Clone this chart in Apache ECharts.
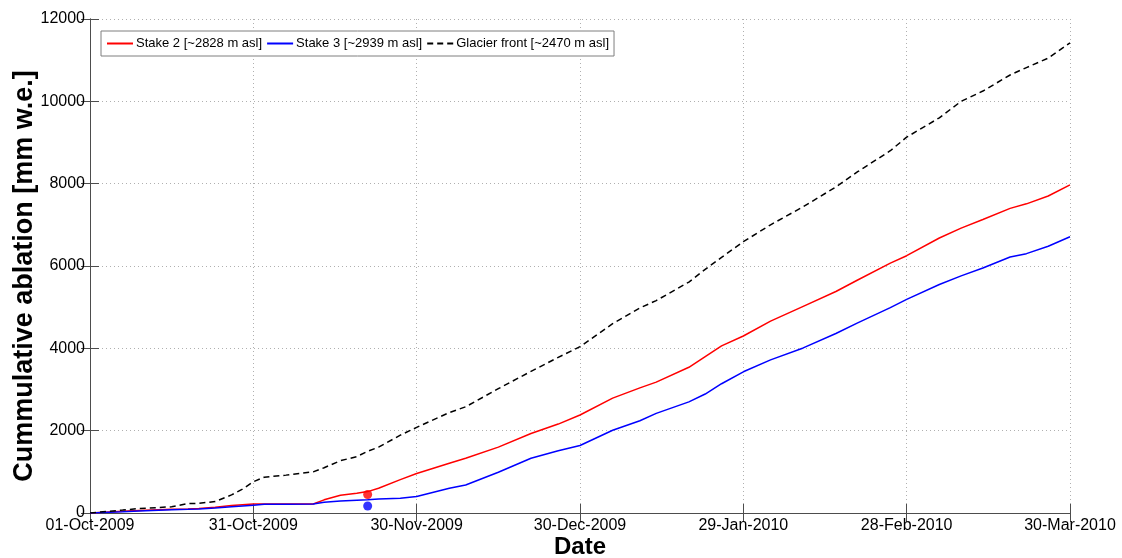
<!DOCTYPE html>
<html>
<head>
<meta charset="utf-8">
<script src="https://cdn.jsdelivr.net/npm/echarts@6/dist/echarts.min.js"></script>
<style>
html,body{margin:0;padding:0;background:#fff;}
#c{width:1122px;height:558px;}
</style>
</head>
<body>
<div id="c"></div>
<script>
// Days since 01-Oct-2009
var days = [0,6,9,15,18,20,23,26,28,30,32,36,41,43,46,49,51,53,57,60,66,69,75,81,86,90,96,101,104,110,113,116,120,125,131,137,141,147,150,156,160,164,169,172,176,180];
var stake2 = [0,40,60,90,100,110,140,180,200,220,220,220,220,320,430,480,520,600,810,960,1210,1330,1600,1930,2160,2380,2790,3040,3180,3540,3800,4060,4300,4660,5020,5380,5660,6070,6250,6680,6920,7130,7400,7510,7700,7970];
var stake3 = [0,30,50,80,90,100,120,150,170,190,210,215,220,260,290,310,320,340,360,400,600,680,990,1330,1510,1640,2010,2240,2420,2700,2890,3140,3430,3720,4010,4360,4620,4990,5190,5550,5760,5950,6220,6300,6480,6710];
var front  = [0,70,110,150,230,235,280,440,580,760,870,920,1000,1100,1270,1370,1500,1600,1890,2080,2440,2580,3020,3440,3780,4040,4600,4980,5160,5610,5920,6210,6590,7000,7440,7920,8290,8800,9130,9600,10000,10250,10640,10820,11050,11420];
var markerDay = 51;
var markerStake2 = 450;
var markerStake3 = 170;
var xTickLabels = ['01-Oct-2009','31-Oct-2009','30-Nov-2009','30-Dec-2009','29-Jan-2010','28-Feb-2010','30-Mar-2010'];
var seriesNames = ['Stake 2 [~2828 m asl]','Stake 3 [~2939 m asl]','Glacier front [~2470 m asl]'];

function pairs(v){ return days.map(function(d,i){ return [d, v[i]]; }); }

var FONT = "'Liberation Sans', Arial, sans-serif";
var chart = echarts.init(document.getElementById('c'));
var axisLineStyle = {color:'#4d4d4d', width:1};
chart.setOption({
  animation:false,
  backgroundColor:'#fff',
  grid:{left:90, right:52, top:19, bottom:45, containLabel:false, outerBoundsMode:'none'},
  legend:{
    data:seriesNames,
    left:101, top:31,
    orient:'horizontal',
    backgroundColor:'#fff',
    borderColor:'#7f7f7f', borderWidth:1,
    padding:[6,5],
    itemWidth:26, itemHeight:10, itemGap:4,
    itemStyle:{opacity:0},
    textStyle:{fontFamily:FONT, fontSize:13, color:'#000', padding:[0,0,0,-2]}
  },
  xAxis:[{
    type:'value', min:0, max:180, interval:30,
    name:'Date', nameLocation:'middle', nameGap:22, nameMoveOverlap:false,
    nameTextStyle:{fontFamily:FONT, fontSize:24, fontWeight:'bold', color:'#000'},
    axisLine:{show:true, lineStyle:axisLineStyle},
    axisTick:{show:true, inside:true, length:9, lineStyle:axisLineStyle},
    axisLabel:{fontFamily:FONT, fontSize:16, color:'#000', margin:5,
      formatter:function(v){ return xTickLabels[Math.round(v/30)] || ''; }},
    splitLine:{show:true, lineStyle:{color:'#b0b0b0', type:[1,3], width:1}}
  },{
    type:'value', min:0, max:180, interval:30, position:'top',
    axisLine:{show:true, lineStyle:axisLineStyle},
    axisTick:{show:true, inside:true, length:9, lineStyle:axisLineStyle},
    axisLabel:{show:false}, splitLine:{show:false}
  }],
  yAxis:[{
    type:'value', min:0, max:12000, interval:2000,
    name:'Cummulative ablation [mm w.e.]', nameLocation:'middle', nameGap:52, nameMoveOverlap:false,
    nameTextStyle:{fontFamily:FONT, fontSize:27, fontWeight:'bold', color:'#000', padding:[0,20,0,0]},
    axisLine:{show:true, lineStyle:axisLineStyle},
    axisTick:{show:true, inside:true, length:9, lineStyle:axisLineStyle},
    axisLabel:{fontFamily:FONT, fontSize:16, color:'#000', margin:5,
      formatter:function(v){ return String(v); }},
    splitLine:{show:true, lineStyle:{color:'#b0b0b0', type:[1,3], width:1}}
  },{
    type:'value', min:0, max:12000, interval:2000, position:'right',
    axisLine:{show:true, lineStyle:axisLineStyle},
    axisTick:{show:true, inside:true, length:9, lineStyle:axisLineStyle},
    axisLabel:{show:false}, splitLine:{show:false}
  }],
  series:[
    {name:seriesNames[0], type:'line', data:pairs(stake2), symbol:'none', showSymbol:false,
     color:'#ff0000', lineStyle:{color:'#ff0000', width:1.5}},
    {name:seriesNames[1], type:'line', data:pairs(stake3), symbol:'none', showSymbol:false,
     color:'#0000ff', lineStyle:{color:'#0000ff', width:1.5}},
    {name:seriesNames[2], type:'line', data:pairs(front), symbol:'none', showSymbol:false,
     color:'#000000', lineStyle:{color:'#000000', width:1.5, type:[6,4]}},
    {name:'m2', type:'scatter', data:[[markerDay, markerStake2]], symbolSize:9, itemStyle:{color:'#ff0000'}},
    {name:'m3', type:'scatter', data:[[markerDay, markerStake3]], symbolSize:9, itemStyle:{color:'#0000ff'}}
  ]
});
</script>
</body>
</html>
